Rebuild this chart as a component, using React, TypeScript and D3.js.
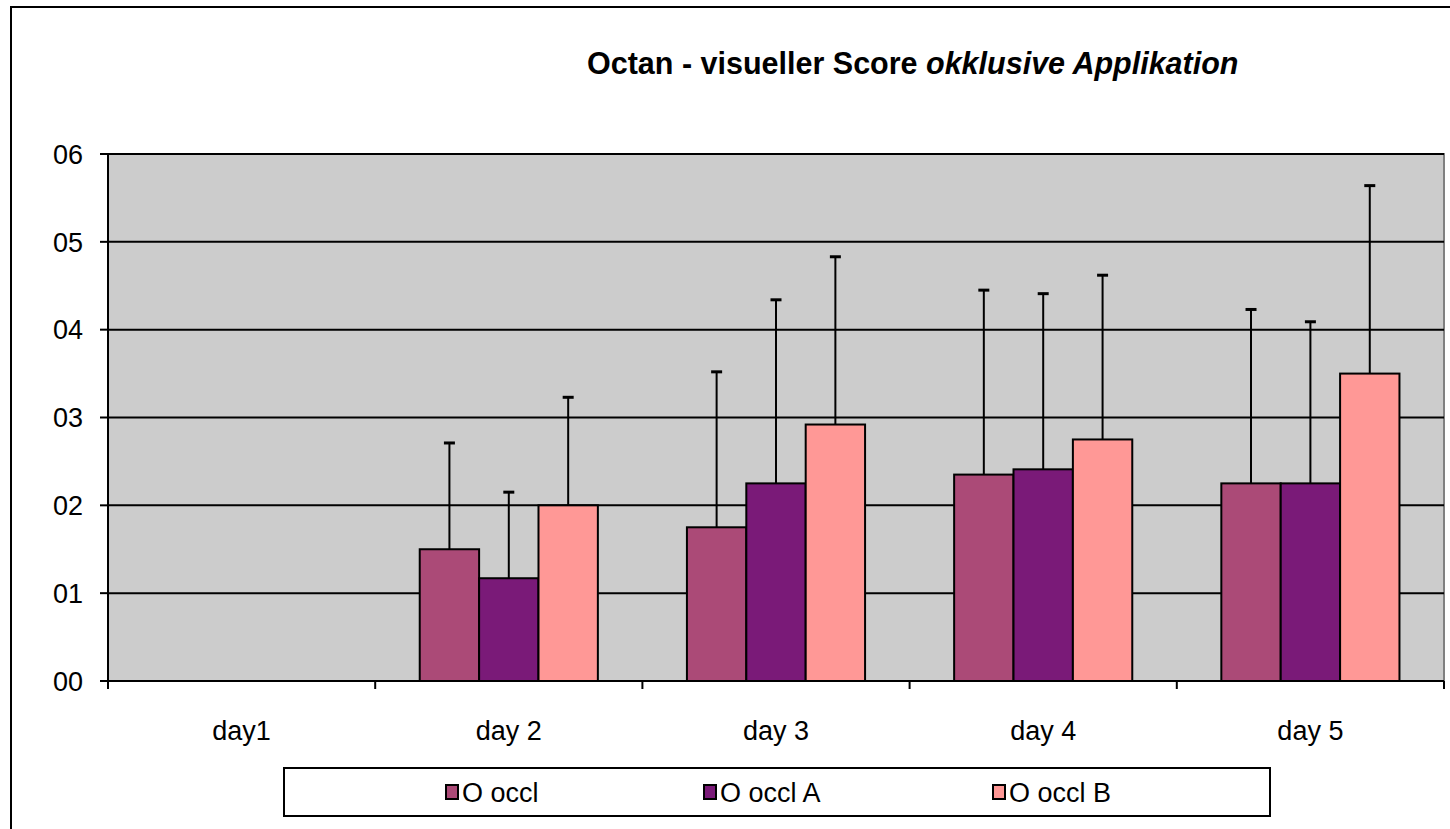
import * as d3 from "d3";

const categories = ["day1", "day 2", "day 3", "day 4", "day 5"];
const seriesNames = ["O occl", "O occl A", "O occl B"];
const seriesColors = ["#ab4a77", "#7a1a78", "#ff9896"];

// mean values per series (day1 has no bars)
const occl = [0, 1.5, 1.75, 2.35, 2.25];
const occlA = [0, 1.17, 2.25, 2.41, 2.25];
const occlB = [0, 2.0, 2.92, 2.75, 3.5];

// upper end of the error bars
const occlErr = [0, 2.71, 3.52, 4.45, 4.23];
const occlAErr = [0, 2.15, 4.34, 4.41, 4.09];
const occlBErr = [0, 3.23, 4.83, 4.62, 5.64];

const yTicks = [0, 1, 2, 3, 4, 5, 6];
const yTickLabels = ["00", "01", "02", "03", "04", "05", "06"];

const W = 1450;
const H = 829;
const plot = { left: 108, right: 1444, top: 154, bottom: 681 };
const font = "Arial, 'Liberation Sans', sans-serif";

export default function App() {
  const values = [occl, occlA, occlB];
  const errs = [occlErr, occlAErr, occlBErr];

  const x = d3.scaleBand().domain(categories).range([plot.left, plot.right]);
  const inner = d3
    .scaleBand()
    .domain(seriesNames)
    .range([x.bandwidth() / 6, (x.bandwidth() * 5) / 6]);
  const y = d3.scaleLinear().domain([0, 6]).range([plot.bottom, plot.top]);

  const bars = [];
  const errBars = [];
  seriesNames.forEach((s, si) => {
    categories.forEach((c, ci) => {
      const v = values[si][ci];
      if (!v) return;
      const bx = (x(c) as number) + (inner(s) as number);
      const bw = inner.bandwidth();
      bars.push(
        <rect
          key={s + c}
          x={bx}
          y={y(v)}
          width={bw}
          height={y(0) - y(v)}
          fill={seriesColors[si]}
          stroke="#000"
          strokeWidth={2}
        />
      );
      const cx = bx + bw / 2;
      errBars.push(
        <g key={"e" + s + c} stroke="#000" strokeWidth={2}>
          <line x1={cx} x2={cx} y1={y(v)} y2={y(errs[si][ci])} />
          <line x1={cx - 5.5} x2={cx + 5.5} y1={y(errs[si][ci])} y2={y(errs[si][ci])} strokeWidth={3} />
        </g>
      );
    });
  });

  const legendTextX = [462, 720, 1009];

  return (
    <svg
      width={W}
      height={H}
      style={{ position: "absolute", left: 0, top: 0, background: "#fff" }}
      fontFamily={font}
    >
      <rect x={11} y={7} width={W + 20} height={H + 20} fill="#fff" stroke="#000" strokeWidth={2} />

      <text x={587} y={74} fontSize={30.5} fontWeight="bold" fill="#000">
        Octan - visueller Score <tspan fontStyle="italic">okklusive Applikation</tspan>
      </text>

      {/* plot area */}
      <rect
        x={plot.left}
        y={plot.top}
        width={plot.right - plot.left}
        height={plot.bottom - plot.top}
        fill="#cccccc"
      />
      <path
        d={`M${plot.left},${plot.top}H${plot.right}V${plot.bottom}`}
        fill="none"
        stroke="#808080"
        strokeWidth={2}
      />

      {yTicks.slice(1).map((t) => (
        <line key={t} x1={plot.left} x2={plot.right} y1={y(t)} y2={y(t)} stroke="#000" strokeWidth={2} />
      ))}

      {bars}
      {errBars}

      {/* axes */}
      <line x1={plot.left} x2={plot.left} y1={plot.top} y2={plot.bottom} stroke="#000" strokeWidth={2} />
      <line x1={plot.left - 8} x2={plot.right} y1={plot.bottom} y2={plot.bottom} stroke="#000" strokeWidth={2} />
      {yTicks.map((t, i) => (
        <g key={"yt" + t}>
          <line x1={plot.left - 8} x2={plot.left} y1={y(t)} y2={y(t)} stroke="#000" strokeWidth={2} />
          <text x={83} y={y(t)} dy="0.36em" textAnchor="end" fontSize={27} fill="#000">
            {yTickLabels[i]}
          </text>
        </g>
      ))}
      {categories.map((c) => (
        <g key={"xt" + c}>
          <line x1={x(c)} x2={x(c)} y1={plot.bottom} y2={plot.bottom + 8} stroke="#000" strokeWidth={2} />
          <text
            x={(x(c) as number) + x.bandwidth() / 2}
            y={740}
            textAnchor="middle"
            fontSize={27}
            fill="#000"
          >
            {c}
          </text>
        </g>
      ))}
      <line x1={plot.right} x2={plot.right} y1={plot.bottom} y2={plot.bottom + 8} stroke="#000" strokeWidth={2} />

      {/* legend */}
      <rect x={284} y={768} width={986} height={48} fill="#fff" stroke="#000" strokeWidth={2} />
      {seriesNames.map((s, i) => (
        <g key={"lg" + s}>
          <rect
            x={legendTextX[i] - 16}
            y={785}
            width={12}
            height={14}
            fill={seriesColors[i]}
            stroke="#000"
            strokeWidth={2}
          />
          <text x={legendTextX[i]} y={802} fontSize={27} fill="#000">
            {s}
          </text>
        </g>
      ))}
    </svg>
  );
}
